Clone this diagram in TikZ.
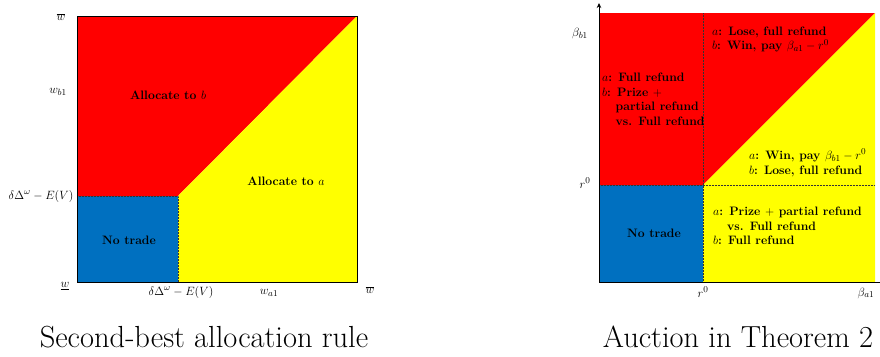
\documentclass[tikz,border=0pt]{standalone}
\usepackage{amsmath}
\usetikzlibrary{arrows.meta}
\definecolor{regred}{RGB}{255,0,0}
\definecolor{regyel}{RGB}{255,255,0}
\definecolor{regblue}{RGB}{0,112,192}
\begin{document}
\begin{tikzpicture}[x=1pt,y=-1pt,
  lbl/.style={font=\fontsize{12.3}{14}\selectfont, inner sep=0pt},
  reg/.style={font=\fontsize{12.2}{14}\selectfont\bfseries, inner sep=0pt},
  ln/.style={font=\fontsize{12.2}{14}\selectfont\bfseries, inner sep=0pt, anchor=base west},
  captxt/.style={font=\fontsize{30.5}{34}\selectfont, inner sep=0pt, anchor=base},
  bnd/.style={densely dotted, line width=0.5pt, black!80},
  axisline/.style={line width=0.8pt, black},
]
\useasboundingbox (0,0) rectangle (880,356);

% ---------------- Left panel ----------------
\fill[regblue] (77,196) rectangle (178,282);
\fill[regred] (77,16) -- (357,16) -- (178,196) -- (77,196) -- cycle;
\fill[regyel] (178,196) -- (357,16) -- (357,282) -- (178,282) -- cycle;
\draw[bnd] (77,196) -- (178,196) -- (178,282);
\draw[line width=0.6pt] (77,16) rectangle (357,282);

\node[reg] (allocb) at (168,95) {Allocate to $b$};
\node[reg] (alloca) at (286,181) {Allocate to $a$};
\node[reg] (notradeL) at (129,240) {No trade};

\node[lbl] (wbarL) at (61,17) {$\overline{w}$};
\node[lbl] (wb1) at (58,92) {$w_{b1}$};
\node[lbl] (thrL) at (41,196) {$\delta\Delta^{\omega}-E(V)$};
\node[lbl] (wlow) at (65,286) {$\underline{w}$};
\node[lbl] (thrB) at (181,292) {$\delta\Delta^{\omega}-E(V)$};
\node[lbl] (wa1) at (269,293) {$w_{a1}$};
\node[lbl] (wbarB) at (370,290) {$\overline{w}$};

\node[captxt] (capL) at (204,347) {Second-best allocation rule};

% ---------------- Right panel ----------------
\fill[regblue] (599,185) rectangle (703,282);
\fill[regred] (599,13) -- (875,13) -- (703,185) -- (599,185) -- cycle;
\fill[regyel] (703,185) -- (875,13) -- (875,282) -- (703,282) -- cycle;
\draw[bnd] (703,13) -- (703,282);
\draw[bnd] (599,185) -- (875,185);

\coordinate (orig) at (599,282);
\coordinate (xend) at (880,282);
\coordinate (yend) at (599,3);
\draw[axisline] (xend) -- (orig);
\draw[axisline,-{Stealth[length=5pt,width=4.5pt]}] (orig) -- (yend);

\node[lbl] (bb1) at (580,33) {$\beta_{b1}$};
\node[lbl] (r0L) at (585,183) {$r^0$};
\node[lbl] (r0B) at (703,292) {$r^0$};
\node[lbl] (ba1) at (866,293) {$\beta_{a1}$};

% top middle (red)
\node[ln] (t1) at (712,35.5) {$a$: Lose, full refund};
\node[ln] (t2) at (712,49.5) {$b$: Win, pay $\beta_{a1}-r^0$};
% left (red)
\node[ln] (l1) at (602,81.5) {$a$: Full refund};
\node[ln] (l2) at (602,96) {$b$: Prize $+$};
\node[ln] (l3) at (615.5,110.5) {partial refund};
\node[ln] (l4) at (615.5,125) {vs. Full refund};
% upper yellow
\node[ln] (u1) at (749,159) {$a$: Win, pay $\beta_{b1}-r^0$};
\node[ln] (u2) at (749,174.5) {$b$: Lose, full refund};
% lower yellow
\node[ln] (d1) at (713,215.5) {$a$: Prize $+$ partial refund};
\node[ln] (d2) at (727,230.5) {vs. Full refund};
\node[ln] (d3) at (713,244.5) {$b$: Full refund};
% no trade
\node[reg] (notradeR) at (654,233) {No trade};

\node[captxt] (capR) at (738,347) {Auction in Theorem 2};
\end{tikzpicture}
\end{document}
